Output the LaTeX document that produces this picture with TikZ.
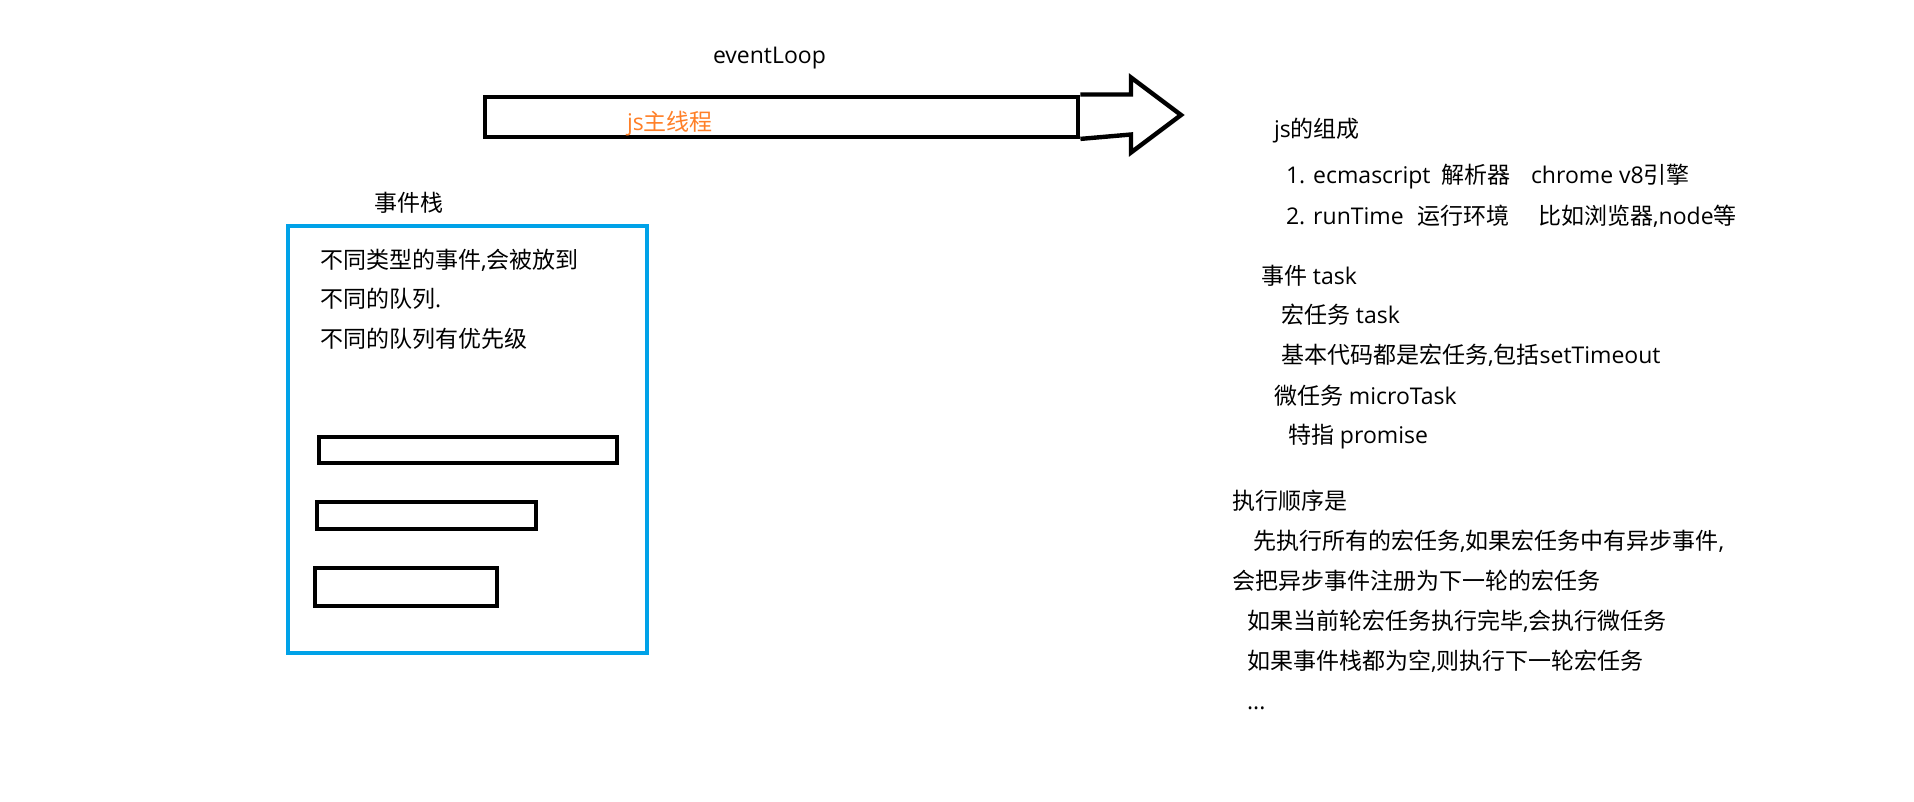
\documentclass[tikz,border=0pt]{standalone}
\usepackage{fontspec}
\setmainfont{Open Sans}
\newfontfamily\cjkfont{Noto Sans CJK SC}
\newcommand\zh[1]{{\cjkfont #1}}
\definecolor{paintblue}{HTML}{00A2E8}
\definecolor{paintorange}{HTML}{FF7F27}
\tikzset{
  txt/.style={anchor=base west, inner sep=0pt, outer sep=0pt, font=\fontsize{23}{28}\selectfont},
  bar/.style={draw=black, line width=4.4pt, inner sep=0pt, anchor=north west},
  queue/.style={draw=black, line width=4.6pt, inner sep=0pt, anchor=north west},
}
\begin{document}
\begin{tikzpicture}[x=1pt,y=-1pt]
\useasboundingbox (0,0) rectangle (1914,801);
% top: event loop bar and arrow
\node[txt] (loop) at (713,63) {eventLoop};
\node[bar, minimum width=593pt, minimum height=40pt] (mainbar) at (483,94.5) {};
\coordinate (hbt) at (1131,94.5);
\coordinate (hbb) at (1131,134.5);
\coordinate (htop) at (1131,77.5);
\coordinate (hbot) at (1131,152.5);
\coordinate (tip) at (1181,115);
\draw[line width=4.4pt, line join=miter] (mainbar.north east) -- (hbt) -- (htop) -- (tip) -- (hbot) -- (hbb) -- (mainbar.south east);
\node[txt, text=paintorange] (mainthread) at (627,130) {js\zh{主线程}};
% left: event stack
\node[txt] (stacklbl) at (374,211) {\zh{事件栈}};
\node[draw=paintblue, line width=4.7pt, inner sep=0pt, anchor=north west, minimum width=359pt, minimum height=427pt] (stack) at (285.5,223.5) {};
\node[txt] (l1) at (320,268) {\zh{不同类型的事件},\zh{会被放到}};
\node[txt] (l2) at (320,307.5) {\zh{不同的队列}.};
\node[txt] (l3) at (320,347) {\zh{不同的队列有优先级}};
\node[queue, minimum width=298pt, minimum height=26pt] (q1) at (316.5,434.5) {};
\node[queue, minimum width=219pt, minimum height=27pt] (q2) at (314.5,499.5) {};
\node[queue, minimum width=182pt, minimum height=38pt] (q3) at (312.5,565.5) {};
% right: notes
\node[txt] (r1) at (1274,137) {js\zh{的组成}};
\node[txt] (r2a) at (1286,183) {1. ecmascript};
\node[txt] (r2b) at (1441,183) {\zh{解析器}};
\node[txt] (r2c) at (1531,183) {chrome v8\zh{引擎}};
\node[txt] (r3a) at (1286,224) {2. runTime};
\node[txt] (r3b) at (1417,224) {\zh{运行环境}};
\node[txt] (r3c) at (1538,224) {\zh{比如浏览器},node\zh{等}};
\node[txt] (r4) at (1261,284) {\zh{事件} task};
\node[txt] (r5) at (1281,323) {\zh{宏任务} task};
\node[txt] (r6) at (1281,363) {\zh{基本代码都是宏任务},\zh{包括}setTimeout};
\node[txt] (r7) at (1274,404) {\zh{微任务} microTask};
\node[txt] (r8) at (1288,443) {\zh{特指} promise};
\node[txt] (r9) at (1232,509) {\zh{执行顺序是}};
\node[txt] (r10) at (1253,549) {\zh{先执行所有的宏任务},\zh{如果宏任务中有异步事件},};
\node[txt] (r11) at (1232,589) {\zh{会把异步事件注册为下一轮的宏任务}};
\node[txt] (r12) at (1247,629) {\zh{如果当前轮宏任务执行完毕},\zh{会执行微任务}};
\node[txt] (r13) at (1247,669) {\zh{如果事件栈都为空},\zh{则执行下一轮宏任务}};
\node[txt] (r14) at (1247,709) {...};
\end{tikzpicture}
\end{document}
